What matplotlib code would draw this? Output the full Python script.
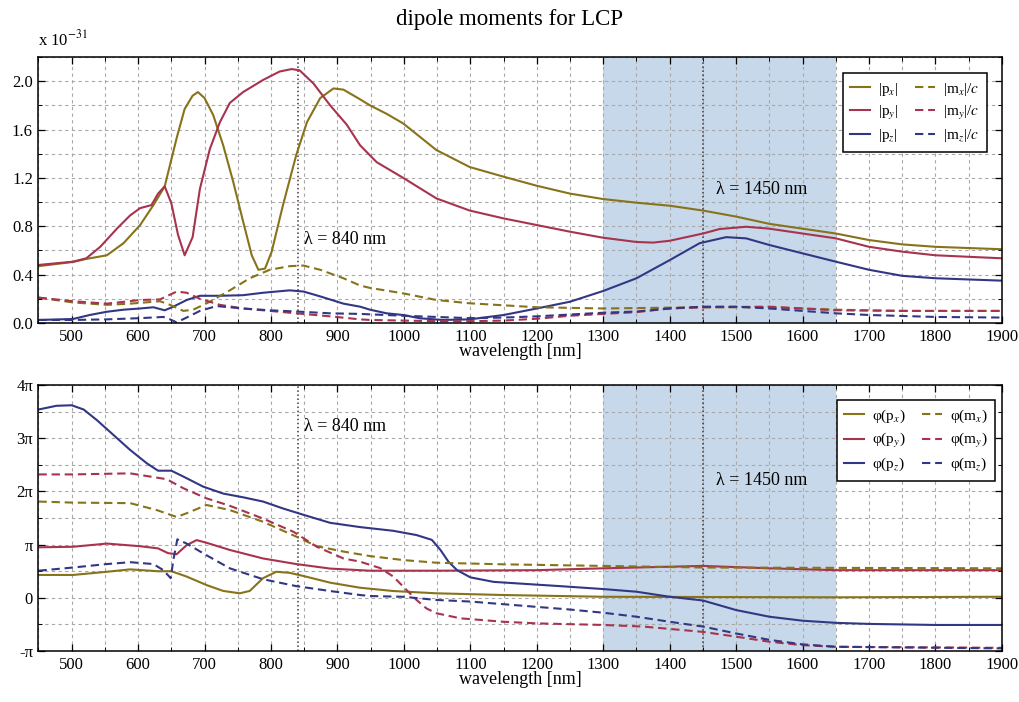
import numpy as np
import matplotlib
matplotlib.use("Agg")
import matplotlib.pyplot as plt
from matplotlib.ticker import MultipleLocator, FixedLocator, FixedFormatter, FormatStrFormatter

# == Data ==
# top panel: magnitudes in units of 1e-31
px_wl = [450, 502, 522, 553, 578, 603, 623, 640, 658, 670, 682, 690, 700, 713, 728, 743, 758, 771, 781, 791,
         801, 818, 838, 854, 874, 894, 909, 934, 949, 974, 999, 1049, 1099, 1150, 1200, 1250, 1300, 1350, 1400,
         1450, 1500, 1550, 1600, 1650, 1700, 1750, 1800, 1900]
px_val = [0.47, 0.505, 0.53, 0.56, 0.66, 0.81, 0.975, 1.13, 1.53, 1.77, 1.88, 1.91, 1.86, 1.72, 1.47, 1.17,
          0.84, 0.56, 0.44, 0.45, 0.59, 0.975, 1.39, 1.66, 1.86, 1.94, 1.93, 1.85, 1.80, 1.73, 1.65, 1.43, 1.29,
          1.21, 1.135, 1.07, 1.025, 0.995, 0.97, 0.93, 0.88, 0.82, 0.78, 0.74, 0.686, 0.65, 0.63, 0.61]

py_wl = [450, 502, 522, 543, 568, 588, 603, 620, 630, 640, 650, 660, 670, 682, 693, 708, 723, 738, 758, 788,
         813, 831, 843, 864, 889, 914, 934, 959, 999, 1049, 1099, 1150, 1200, 1250, 1300, 1350, 1375, 1400,
         1450, 1475, 1515, 1550, 1600, 1650, 1700, 1750, 1800, 1900]
py_val = [0.48, 0.507, 0.535, 0.63, 0.78, 0.89, 0.95, 0.975, 1.07, 1.13, 0.99, 0.73, 0.56, 0.71, 1.11, 1.44,
          1.66, 1.82, 1.91, 2.01, 2.08, 2.10, 2.09, 1.98, 1.80, 1.64, 1.47, 1.33, 1.20, 1.03, 0.93, 0.865,
          0.81, 0.755, 0.705, 0.67, 0.665, 0.68, 0.74, 0.777, 0.796, 0.78, 0.74, 0.70, 0.63, 0.59, 0.56, 0.535]

pz_wl = [450, 502, 527, 553, 578, 603, 623, 640, 653, 673, 693, 723, 758, 788, 828, 849, 874, 909, 934, 949,
         974, 999, 1024, 1059, 1099, 1150, 1200, 1250, 1300, 1350, 1400, 1445, 1485, 1515, 1550, 1600, 1650,
         1700, 1750, 1800, 1900]
pz_val = [0.025, 0.033, 0.066, 0.093, 0.11, 0.12, 0.13, 0.105, 0.135, 0.19, 0.225, 0.225, 0.23, 0.25, 0.27,
          0.26, 0.22, 0.16, 0.135, 0.11, 0.08, 0.066, 0.039, 0.025, 0.03, 0.066, 0.12, 0.176, 0.265, 0.37,
          0.52, 0.66, 0.71, 0.70, 0.645, 0.576, 0.507, 0.44, 0.39, 0.37, 0.35]

mx_wl = [450, 502, 553, 588, 633, 648, 668, 683, 708, 738, 768, 798, 828, 849, 874, 909, 934, 949, 999, 1049,
         1099, 1200, 1300, 1450, 1550, 1650, 1750, 1900]
mx_val = [0.21, 0.17, 0.15, 0.16, 0.18, 0.15, 0.10, 0.11, 0.176, 0.27, 0.37, 0.44, 0.47, 0.475, 0.44, 0.37,
          0.31, 0.29, 0.245, 0.19, 0.163, 0.13, 0.12, 0.13, 0.13, 0.11, 0.10, 0.10]

my_wl = [450, 502, 553, 603, 633, 658, 673, 693, 723, 758, 798, 838, 889, 934, 949, 999, 1049, 1099, 1150,
         1200, 1250, 1300, 1350, 1400, 1450, 1550, 1650, 1750, 1900]
my_val = [0.21, 0.18, 0.16, 0.19, 0.195, 0.26, 0.25, 0.20, 0.15, 0.12, 0.10, 0.08, 0.055, 0.03, 0.025, 0.02,
          0.015, 0.015, 0.02, 0.035, 0.06, 0.075, 0.09, 0.12, 0.13, 0.135, 0.105, 0.10, 0.10]

mz_wl = [450, 502, 553, 603, 638, 648, 658, 673, 693, 718, 758, 798, 838, 889, 934, 999, 1049, 1099, 1150,
         1200, 1250, 1300, 1350, 1400, 1450, 1500, 1550, 1600, 1650, 1700, 1800, 1900]
mz_val = [0.025, 0.025, 0.03, 0.04, 0.05, 0.03, 0.005, 0.045, 0.10, 0.14, 0.12, 0.105, 0.095, 0.08, 0.075,
          0.06, 0.05, 0.04, 0.045, 0.055, 0.07, 0.085, 0.095, 0.12, 0.135, 0.135, 0.12, 0.10, 0.08, 0.066,
          0.05, 0.045]

# bottom panel: phases in units of pi
phx_wl = [450, 502, 553, 588, 630, 650, 673, 703, 728, 753, 768, 788, 808, 828, 849, 889, 934, 984, 1049,
          1150, 1300, 1650, 1900]
phx_val = [0.43, 0.43, 0.49, 0.535, 0.50, 0.50, 0.40, 0.24, 0.13, 0.085, 0.13, 0.37, 0.49, 0.47, 0.41, 0.285,
           0.19, 0.128, 0.085, 0.053, 0.02, 0.01, 0.02]

phy_wl = [450, 502, 553, 603, 630, 645, 658, 673, 688, 703, 738, 788, 838, 889, 949, 1050, 1200, 1300, 1450,
          1550, 1650, 1900]
phy_val = [0.95, 0.96, 1.02, 0.97, 0.93, 0.84, 0.82, 0.99, 1.085, 1.035, 0.90, 0.74, 0.635, 0.55, 0.51, 0.51,
           0.52, 0.555, 0.60, 0.555, 0.52, 0.52]

phz_wl = [450, 477, 500, 518, 538, 563, 588, 613, 630, 650, 668, 698, 728, 758, 788, 818, 849, 889, 934, 984,
          1019, 1042, 1055, 1067, 1080, 1100, 1135, 1185, 1235, 1300, 1350, 1400, 1450, 1500, 1550, 1600,
          1650, 1700, 1800, 1900]
phz_val = [3.54, 3.61, 3.62, 3.54, 3.34, 3.06, 2.78, 2.53, 2.39, 2.39, 2.28, 2.09, 1.96, 1.89, 1.81, 1.68,
           1.56, 1.41, 1.33, 1.26, 1.18, 1.09, 0.90, 0.68, 0.52, 0.385, 0.30, 0.26, 0.22, 0.165, 0.115, 0.02,
           -0.05, -0.23, -0.355, -0.43, -0.47, -0.49, -0.51, -0.51]

phmx_wl = [450, 502, 588, 628, 658, 673, 703, 738, 788, 838, 869, 909, 949, 999, 1049, 1150, 1300, 1450, 1900]
phmx_val = [1.81, 1.79, 1.78, 1.65, 1.52, 1.59, 1.745, 1.65, 1.43, 1.15, 0.97, 0.87, 0.785, 0.71, 0.66, 0.63,
            0.60, 0.57, 0.555]

phmy_wl = [450, 502, 588, 628, 643, 668, 703, 738, 788, 834, 869, 909, 934, 964, 984, 1004, 1019, 1034, 1049,
           1085, 1150, 1200, 1300, 1360, 1450, 1500, 1550, 1600, 1650, 1900]
phmy_val = [2.32, 2.32, 2.34, 2.26, 2.23, 2.06, 1.87, 1.73, 1.49, 1.24, 0.96, 0.74, 0.68, 0.56, 0.40, 0.147,
            -0.04, -0.2, -0.29, -0.385, -0.45, -0.48, -0.51, -0.54, -0.64, -0.73, -0.825, -0.89, -0.92, -0.94]

phmz_wl = [450, 502, 553, 588, 623, 638, 649, 653, 659, 673, 703, 738, 788, 838, 889, 934, 949, 999, 1049,
           1100, 1150, 1200, 1250, 1300, 1350, 1400, 1450, 1500, 1550, 1600, 1650, 1900]
phmz_val = [0.51, 0.57, 0.635, 0.67, 0.635, 0.52, 0.37, 0.71, 1.10, 1.02, 0.80, 0.555, 0.35, 0.22, 0.128,
            0.053, 0.034, 0.02, -0.04, -0.07, -0.12, -0.17, -0.22, -0.28, -0.355, -0.45, -0.54, -0.67, -0.79,
            -0.875, -0.92, -0.95]

marks = [840, 1450]
band = (1300, 1650)

# == Style ==
OLIVE = "#877319"
CRIMSON = "#a8334f"
NAVY = "#323784"
SHADE = "#c6d8e9"

plt.rcParams["font.family"] = ["Liberation Serif", "DejaVu Serif"]
plt.rcParams["mathtext.fontset"] = "stix"

fig = plt.figure(figsize=(10.2, 7.02), dpi=100)
ax1 = fig.add_axes([0.0377, 0.5399, 0.9446, 0.3789])
ax2 = fig.add_axes([0.0377, 0.0726, 0.9446, 0.3789])

LW = 1.5
DASH = (4.0, 2.3)


def style_axes(ax):
    ax.set_xlim(450, 1900)
    ax.xaxis.set_major_locator(MultipleLocator(100))
    ax.xaxis.set_minor_locator(MultipleLocator(50))
    ax.set_axisbelow(True)
    ax.grid(which="both", color="#a8a8a8", linestyle=(0, (3, 3)), linewidth=0.8)
    ax.tick_params(which="both", direction="in", top=True, right=True, labelsize=12, pad=4)
    ax.tick_params(which="major", length=5, width=0.9)
    ax.tick_params(which="minor", length=3, width=0.7)
    for s in ax.spines.values():
        s.set_linewidth(1.1)
    ax.axvspan(band[0], band[1], color=SHADE, zorder=0, lw=0)
    for m in marks:
        ax.axvline(m, color="#4a3535", linestyle=":", linewidth=1.1, zorder=1)
    ax.set_xlabel("wavelength [nm]", fontsize=13, labelpad=-1)
    ax.xaxis.set_major_formatter(FormatStrFormatter("%d"))


LEG = dict(ncol=2, loc="upper right", fontsize=11, frameon=True, fancybox=False, edgecolor="black",
           framealpha=1, handlelength=1.3, columnspacing=1.1, labelspacing=0.4, borderpad=0.5,
           handletextpad=0.5, borderaxespad=0)

# == Top: magnitudes ==
style_axes(ax1)
ax1.plot(px_wl, px_val, color=OLIVE, lw=LW, label=r"|p$_x$|")
ax1.plot(py_wl, py_val, color=CRIMSON, lw=LW, label=r"|p$_y$|")
ax1.plot(pz_wl, pz_val, color=NAVY, lw=LW, label=r"|p$_z$|")
ax1.plot(mx_wl, mx_val, color=OLIVE, lw=LW, dashes=DASH, label=r"|m$_x$|/$c$")
ax1.plot(my_wl, my_val, color=CRIMSON, lw=LW, dashes=DASH, label=r"|m$_y$|/$c$")
ax1.plot(mz_wl, mz_val, color=NAVY, lw=LW, dashes=DASH, label=r"|m$_z$|/$c$")
ax1.set_ylim(0, 2.2)
ax1.yaxis.set_major_locator(MultipleLocator(0.4))
ax1.yaxis.set_minor_locator(MultipleLocator(0.2))
ax1.yaxis.set_major_formatter(FormatStrFormatter("%.1f"))
ax1.text(849, 0.69, "λ = 840 nm", fontsize=13, va="center")
ax1.text(1469, 1.10, "λ = 1450 nm", fontsize=13, va="center")
leg = ax1.legend(bbox_to_anchor=(0.984, 0.94), **LEG)
leg.get_frame().set_linewidth(1.1)

# == Bottom: phases ==
style_axes(ax2)
pi = np.pi
ax2.plot(phx_wl, np.array(phx_val) * pi, color=OLIVE, lw=LW, label=r"φ(p$_x$)")
ax2.plot(phy_wl, np.array(phy_val) * pi, color=CRIMSON, lw=LW, label=r"φ(p$_y$)")
ax2.plot(phz_wl, np.array(phz_val) * pi, color=NAVY, lw=LW, label=r"φ(p$_z$)")
ax2.plot(phmx_wl, np.array(phmx_val) * pi, color=OLIVE, lw=LW, dashes=DASH, label=r"φ(m$_x$)")
ax2.plot(phmy_wl, np.array(phmy_val) * pi, color=CRIMSON, lw=LW, dashes=DASH, label=r"φ(m$_y$)")
ax2.plot(phmz_wl, np.array(phmz_val) * pi, color=NAVY, lw=LW, dashes=DASH, label=r"φ(m$_z$)")
ax2.set_ylim(-pi, 4 * pi)
ax2.yaxis.set_major_locator(FixedLocator([k * pi for k in range(-1, 5)]))
ax2.yaxis.set_major_formatter(FixedFormatter(["-π", "0", "π", "2π", "3π", "4π"]))
ax2.yaxis.set_minor_locator(MultipleLocator(pi / 2))
ax2.text(849, 3.23 * pi, "λ = 840 nm", fontsize=13, va="center")
ax2.text(1469, 2.21 * pi, "λ = 1450 nm", fontsize=13, va="center")
leg2 = ax2.legend(bbox_to_anchor=(0.993, 0.944), **LEG)
leg2.get_frame().set_linewidth(1.1)

fig.text(0.5, 0.972, "dipole moments for LCP", ha="center", va="center", fontsize=16.5)
fig.text(0.037, 0.944, r"x 10$^{-31}$", ha="left", va="center", fontsize=12)

fig.savefig("out.png", dpi=100)
